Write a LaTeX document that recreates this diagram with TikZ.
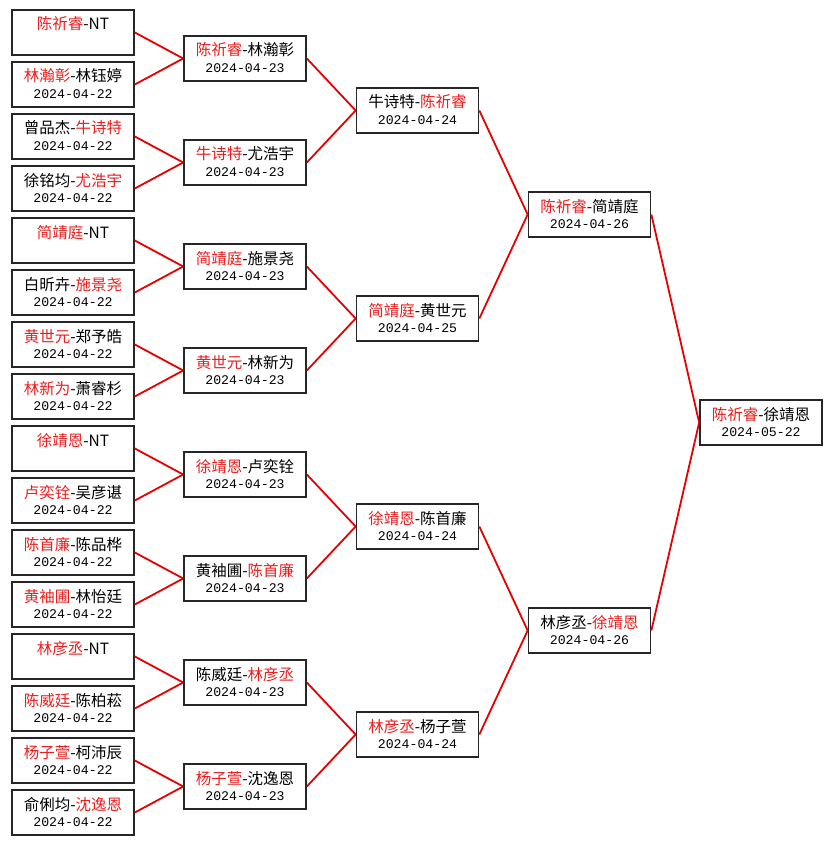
\documentclass[tikz,border=0pt]{standalone}
\usepackage{fontspec}
\setmainfont{Noto Sans CJK SC}
\newfontfamily\datefont{Liberation Mono}
\definecolor{txtred}{RGB}{235,30,30}
\definecolor{linered}{RGB}{230,0,0}
\newcommand\R[1]{\textcolor{txtred}{#1}}
\tikzset{
  gbox/.style={draw=black!85, line width=1.7pt, minimum width=122pt, minimum height=45pt, inner sep=0pt, fill=white},
  nametxt/.style={anchor=base, inner sep=0pt, font=\fontsize{15.5pt}{17pt}\selectfont},
  datetxt/.style={anchor=base, inner sep=0pt, font=\datefont\fontsize{13.2pt}{15pt}\selectfont},
  conn/.style={draw=linered, line width=1.8pt}
}
\newcommand\game[5]{%
  \node[gbox] (#1) at (#2,#3) {};
  \node[nametxt] (#1-n) at (#2,#3-2.5) {#4};
  \node[datetxt] (#1-d) at (#2,#3+14) {#5};
}
\newcommand\gameNT[4]{%
  \node[gbox] (#1) at (#2,#3) {};
  \node[nametxt] (#1-n) at (#2,#3-2.5) {#4};
}
\begin{document}
\begin{tikzpicture}[x=1pt,y=-1pt]
\useasboundingbox[fill=white] (0,0) rectangle (832,845);
% column 1
\gameNT{a1}{73}{32.5}{\R{陈祈睿}-NT}
\game{a2}{73}{84.5}{\R{林瀚彰}-林钰婷}{2024-04-22}
\game{a3}{73}{136.5}{曾品杰-\R{牛诗特}}{2024-04-22}
\game{a4}{73}{188.5}{徐铭均-\R{尤浩宇}}{2024-04-22}
\gameNT{a5}{73}{240.5}{\R{简靖庭}-NT}
\game{a6}{73}{292.5}{白昕卉-\R{施景尧}}{2024-04-22}
\game{a7}{73}{344.5}{\R{黄世元}-郑予皓}{2024-04-22}
\game{a8}{73}{396.5}{\R{林新为}-萧睿杉}{2024-04-22}
\gameNT{a9}{73}{448.5}{\R{徐靖恩}-NT}
\game{a10}{73}{500.5}{\R{卢奕铨}-吴彦谌}{2024-04-22}
\game{a11}{73}{552.5}{\R{陈首廉}-陈品桦}{2024-04-22}
\game{a12}{73}{604.5}{\R{黄袖圃}-林怡廷}{2024-04-22}
\gameNT{a13}{73}{656.5}{\R{林彦丞}-NT}
\game{a14}{73}{708.5}{\R{陈威廷}-陈柏菘}{2024-04-22}
\game{a15}{73}{760.5}{\R{杨子萱}-柯沛辰}{2024-04-22}
\game{a16}{73}{812.5}{俞俐均-\R{沈逸恩}}{2024-04-22}
% column 2
\game{b1}{245}{58.5}{\R{陈祈睿}-林瀚彰}{2024-04-23}
\game{b2}{245}{162.5}{\R{牛诗特}-尤浩宇}{2024-04-23}
\game{b3}{245}{266.5}{\R{简靖庭}-施景尧}{2024-04-23}
\game{b4}{245}{370.5}{\R{黄世元}-林新为}{2024-04-23}
\game{b5}{245}{474.5}{\R{徐靖恩}-卢奕铨}{2024-04-23}
\game{b6}{245}{578.5}{黄袖圃-\R{陈首廉}}{2024-04-23}
\game{b7}{245}{682.5}{陈威廷-\R{林彦丞}}{2024-04-23}
\game{b8}{245}{786.5}{\R{杨子萱}-沈逸恩}{2024-04-23}
% column 3
\game{c1}{417.5}{110.5}{牛诗特-\R{陈祈睿}}{2024-04-24}
\game{c2}{417.5}{318.5}{\R{简靖庭}-黄世元}{2024-04-25}
\game{c3}{417.5}{526.5}{\R{徐靖恩}-陈首廉}{2024-04-24}
\game{c4}{417.5}{734.5}{\R{林彦丞}-杨子萱}{2024-04-24}
% column 4
\game{d1}{589.5}{214.5}{\R{陈祈睿}-简靖庭}{2024-04-26}
\game{d2}{589.5}{630.5}{林彦丞-\R{徐靖恩}}{2024-04-26}
% column 5
\game{e1}{761}{422.5}{\R{陈祈睿}-徐靖恩}{2024-05-22}
% connectors
\foreach \s/\t in {a1/b1,a2/b1,a3/b2,a4/b2,a5/b3,a6/b3,a7/b4,a8/b4,a9/b5,a10/b5,a11/b6,a12/b6,a13/b7,a14/b7,a15/b8,a16/b8,b1/c1,b2/c1,b3/c2,b4/c2,b5/c3,b6/c3,b7/c4,b8/c4,c1/d1,c2/d1,c3/d2,c4/d2,d1/e1,d2/e1}
  \draw[conn] (\s.east) -- (\t.west);
\end{tikzpicture}
\end{document}
